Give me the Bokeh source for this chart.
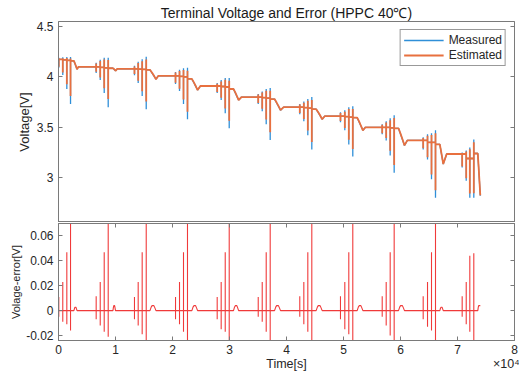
from bokeh.plotting import figure
from bokeh.models import FixedTicker, LinearAxis, Legend, LegendItem, Range1d
from bokeh.layouts import column
from bokeh.embed import file_html
from bokeh.resources import INLINE

# ---------------- data (time in units of 1e4 s) ----------------
pulse_t = [
    [0.005, 0.075, 0.146, 0.211],
    [0.661, 0.732, 0.802, 0.872],
    [1.333, 1.398, 1.468, 1.539],
    [2.053, 2.123, 2.193, 2.263],
    [2.784, 2.854, 2.925, 2.995],
    [3.504, 3.574, 3.644, 3.714],
    [4.233, 4.304, 4.374, 4.444],
    [4.947, 5.023, 5.093, 5.163],
    [5.679, 5.749, 5.819, 5.889],
    [6.398, 6.474, 6.544, 6.614],
    [7.082, 7.153, 7.216, 7.286],
]
# rest voltage before pulse 1 and after each of the 4 pulses
base_v = [
    [4.18, 4.175, 4.17, 4.165, 4.16],
    [4.10, 4.10, 4.095, 4.09, 4.086],
    [4.08, 4.08, 4.078, 4.075, 4.07],
    [4.01, 4.01, 4.005, 4.00, 3.98],
    [3.91, 3.91, 3.905, 3.90, 3.88],
    [3.80, 3.80, 3.795, 3.79, 3.78],
    [3.70, 3.70, 3.695, 3.69, 3.68],
    [3.61, 3.61, 3.605, 3.60, 3.595],
    [3.50, 3.50, 3.50, 3.495, 3.49],
    [3.37, 3.37, 3.35, 3.35, 3.33],
    [3.235, 3.235, 3.19, 3.19, 3.24],
]
meas_low = [
    [4.09, 4.02, 3.88, 3.73],
    [4.04, 3.97, 3.84, 3.70],
    [4.017, 3.94, 3.81, 3.68],
    [3.93, 3.86, 3.73, 3.58],
    [3.84, 3.77, 3.64, 3.49],
    [3.73, 3.66, 3.53, 3.375],
    [3.63, 3.56, 3.42, 3.28],
    [3.55, 3.47, 3.33, 3.21],
    [3.43, 3.37, 3.22, 3.05],
    [3.28, 3.18, 2.985, 2.80],
    [3.10, 2.97, 2.80, 2.80],
]
meas_high = [
    [4.19, 4.195, 4.198, 4.198],
    [4.14, 4.17, 4.19, 4.19],
    [4.11, 4.15, 4.175, 4.20],
    [4.05, 4.07, 4.085, 4.09],
    [3.94, 3.97, 3.99, 3.99],
    [3.83, 3.855, 3.88, 3.89],
    [3.73, 3.755, 3.78, 3.80],
    [3.65, 3.67, 3.70, 3.71],
    [3.53, 3.56, 3.59, 3.62],
    [3.40, 3.43, 3.44, 3.47],
    [3.25, 3.27, 3.30, 3.38],
]
# estimation error (estimated - measured) at discharge and charge peaks
err_pos = [
    [0.011, 0.023, 0.047, 0.080],
    [0.0115, 0.023, 0.047, 0.080],
    [0.011, 0.023, 0.047, 0.075],
    [0.011, 0.023, 0.047, 0.075],
    [0.011, 0.023, 0.047, 0.075],
    [0.011, 0.023, 0.047, 0.075],
    [0.0115, 0.023, 0.047, 0.075],
    [0.0115, 0.023, 0.047, 0.075],
    [0.0115, 0.023, 0.047, 0.075],
    [0.0115, 0.023, 0.047, 0.075],
    [0.0115, 0.023, 0.044, 0.046],
]
err_neg = [
    [-0.005, -0.009, -0.011, -0.016],
    [-0.007, -0.012, -0.017, -0.021],
    [-0.007, -0.012, -0.019, -0.028],
    [-0.007, -0.011, -0.017, -0.028],
    [-0.007, -0.015, -0.017, -0.028],
    [-0.005, -0.009, -0.017, -0.028],
    [-0.005, -0.011, -0.017, -0.028],
    [-0.007, -0.015, -0.019, -0.028],
    [-0.005, -0.012, -0.020, -0.028],
    [-0.007, -0.013, -0.016, -0.028],
    [-0.005, -0.011, -0.017, -0.028],
]
# SOC-step discharge after each pulse group
drop_t0 = [0.27, 0.955, 1.605, 2.34, 3.07, 3.79, 4.52, 5.24, 5.965, 6.69, 7.356]
drop_t1 = [0.325, 1.00, 1.71, 2.44, 3.16, 3.895, 4.626, 5.34, 6.07, 6.75, 7.40]
drop_vmin = [4.076, 4.06, 3.977, 3.87, 3.77, 3.67, 3.58, 3.47, 3.32, 3.135, 2.82]
relax_t = [0.35, 1.03, 1.75, 2.49, 3.21, 3.95, 4.67, 5.385, 6.12, 6.81]
bump_h = [0.0027, 0.004, 0.004, 0.004, 0.004, 0.004, 0.004, 0.004, 0.004, 0.0027, 0.004]

x_ticks = [0, 1, 2, 3, 4, 5, 6, 7, 8]
v_ticks = [3, 3.5, 4, 4.5]
e_ticks = [-0.02, 0, 0.02, 0.04, 0.06]

# ---------------- build series ----------------
BUMP_FRAC = [0.0, 0.2, 0.35, 0.65, 0.8, 1.0]
BUMP_SHAPE = [0.0, 0.7, 1.0, 1.0, 0.6, 0.0]
BUMP_SHAPE_END = [0.0, 0.7, 1.0, 1.0, 1.0, 1.0]

t, vm, er = [0.0], [base_v[0][0]], [0.0]
n = len(pulse_t)
for g in range(n):
    for k in range(4):
        tk = pulse_t[g][k]
        t += [tk] * 4
        vm += [base_v[g][k], meas_low[g][k], meas_high[g][k], base_v[g][k + 1]]
        er += [0.0, err_pos[g][k], err_neg[g][k], 0.0]
    t0, t1 = drop_t0[g], drop_t1[g]
    v0, v1 = base_v[g][4], drop_vmin[g]
    shape = BUMP_SHAPE if g < n - 1 else BUMP_SHAPE_END
    for f, s in zip(BUMP_FRAC, shape):
        t.append(t0 + f * (t1 - t0))
        vm.append(v0 + f * (v1 - v0))
        er.append(s * bump_h[g])
    if g < n - 1:
        t.append(relax_t[g])
        vm.append(base_v[g + 1][0])
        er.append(0.0)
ve = [a + b for a, b in zip(vm, er)]

# ---------------- styling ----------------
FONT = "Liberation Sans"
AX = "#7a7a7a"
TXT = "#262626"
BLUE = "#2f8fd8"
ORANGE = "#e8703f"
RED = "#f03a3a"


def style_axis(ax, ticks, labels=True, size="12px"):
    ax.ticker = FixedTicker(ticks=ticks)
    ax.minor_tick_line_color = None
    ax.major_tick_in = 4
    ax.major_tick_out = 0
    ax.major_tick_line_color = AX
    ax.axis_line_color = AX
    ax.major_label_text_font = FONT
    ax.major_label_text_color = TXT
    ax.axis_label_text_font = FONT
    ax.axis_label_text_color = TXT
    ax.axis_label_text_font_style = "normal"
    if labels:
        ax.major_label_text_font_size = size
        ax.major_label_standoff = 5
    else:
        ax.major_label_text_font_size = "0px"
        ax.major_label_standoff = 0
        ax.major_label_text_alpha = 0


def fmt(v):
    return "%g" % v


p1 = figure(width=519, height=222, x_range=Range1d(0, 8), y_range=Range1d(2.555, 4.55),
            output_backend="svg", toolbar_location=None, x_axis_location=None,
            min_border_left=58, min_border_right=5, min_border_top=21, min_border_bottom=0)
p1.title.text = "Terminal Voltage and Error (HPPC 40\u2103)"
p1.title.align = "center"
p1.title.text_font = FONT
p1.title.text_font_size = "14px"
p1.title.text_font_style = "normal"
p1.title.text_color = "#1a1a1a"
p1.title.standoff = 2
p1.outline_line_color = AX
p1.xgrid.visible = False
p1.ygrid.visible = False
p1.background_fill_color = "white"
p1.border_fill_color = "white"

ya = p1.yaxis[0]
style_axis(ya, v_ticks)
ya.major_label_overrides = {v: fmt(v) for v in v_ticks}
ya.axis_label = "Voltage[V]"
ya.axis_label_text_font_size = "13px"
ya.axis_label_standoff = 2
ra = LinearAxis()
style_axis(ra, v_ticks, labels=False)
p1.add_layout(ra, "right")

r_meas = p1.line(t, vm, line_color=BLUE, line_width=1.3)
r_est = p1.line(t, ve, line_color=ORANGE, line_width=1.8)
legend = Legend(items=[LegendItem(label="Measured", renderers=[r_meas]),
                       LegendItem(label="Estimated", renderers=[r_est])],
                location="top_right")
legend.label_text_font = FONT
legend.label_text_font_size = "12px"
legend.label_text_color = TXT
legend.glyph_width = 40
legend.glyph_height = 12
legend.label_height = 12
legend.label_standoff = 5
legend.spacing = 1
legend.padding = 3
legend.margin = 8
legend.border_line_color = "#333333"
legend.border_line_width = 1
legend.background_fill_alpha = 1
p1.add_layout(legend)

p2 = figure(width=519, height=157, x_range=p1.x_range, y_range=Range1d(-0.024, 0.07),
            output_backend="svg", toolbar_location=None,
            min_border_left=58, min_border_right=5, min_border_top=1, min_border_bottom=39)
p2.outline_line_color = AX
p2.xgrid.visible = False
p2.ygrid.visible = False
p2.border_fill_color = "white"

xa = p2.xaxis[0]
style_axis(xa, x_ticks)
xa.major_label_overrides = {v: str(v) for v in x_ticks}
xa.major_label_standoff = 4

# second row under the time axis: axis title and the x10^4 exponent note
note_pos = [4.0, 7.86]
note_txt = ["Time[s]", "\u00d710\u2074"]
xb = LinearAxis()
xb.ticker = FixedTicker(ticks=note_pos)
xb.major_label_overrides = dict(zip(note_pos, note_txt))
xb.axis_line_color = None
xb.major_tick_line_color = None
xb.minor_tick_line_color = None
xb.major_tick_in = 0
xb.major_tick_out = 0
xb.major_label_standoff = 0
xb.major_label_text_font = FONT
xb.major_label_text_font_size = "12.5px"
xb.major_label_text_color = TXT
p2.add_layout(xb, "below")

ya2 = p2.yaxis[0]
style_axis(ya2, e_ticks)
ya2.major_label_overrides = {v: fmt(v) for v in e_ticks}
ya2.axis_label = "Volage-error[V]"
ya2.axis_label_text_font_size = "11px"
ya2.axis_label_standoff = 1

ta = LinearAxis()
style_axis(ta, x_ticks, labels=False)
p2.add_layout(ta, "above")
ra2 = LinearAxis()
style_axis(ra2, e_ticks, labels=False)
p2.add_layout(ra2, "right")

p2.line(t, er, line_color=RED, line_width=1.1)

layout = column(p1, p2, spacing=0)
open("out.html", "w").write(file_html(layout, INLINE))
